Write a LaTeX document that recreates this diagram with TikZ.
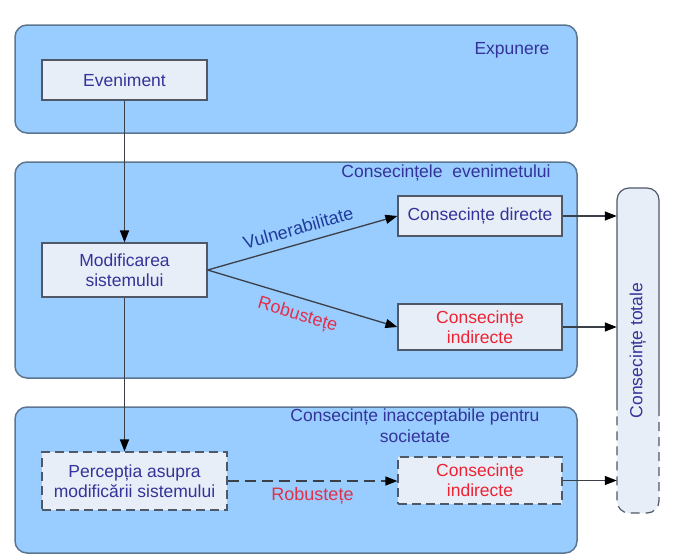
\documentclass[tikz,border=0pt]{standalone}
\usepackage{fontspec}
\setmainfont{Liberation Sans}
\usetikzlibrary{arrows.meta}
\definecolor{panelfill}{HTML}{99CCFF}
\definecolor{panelline}{HTML}{5C7690}
\definecolor{boxfill}{HTML}{E8EEF7}
\definecolor{boxline}{HTML}{4E5866}
\definecolor{txtblue}{HTML}{33339A}
\definecolor{lblblue}{HTML}{1F3C9C}
\definecolor{txtred}{HTML}{EE2233}
\definecolor{lblred}{HTML}{E0304A}
\definecolor{wirecol}{HTML}{3A3F48}
\tikzset{
  panel/.style={fill=panelfill, draw=panelline, line width=1.5pt, rounded corners=12pt},
  stepbox/.style={rectangle, fill=boxfill, draw=boxline, line width=1.2pt, align=center,
    text=txtblue, font=\fontsize{17.5}{20}\selectfont, inner sep=2pt},
  dashbox/.style={stepbox, dash pattern=on 9pt off 5pt},
  paneltitle/.style={text=txtblue, font=\fontsize{17.5}{21}\selectfont, align=center},
  wire/.style={draw=wirecol, line width=1.3pt, -{Triangle[length=12pt,width=9pt,color=black]}},
  dashwire/.style={wire, dash pattern=on 11pt off 6pt},
  lbl/.style={font=\fontsize{18}{20}\selectfont}
}
\begin{document}
\begin{tikzpicture}[x=1pt, y=-1pt]
\useasboundingbox (0,0) rectangle (678,555);

% the three panels
\draw[panel] (15,25) rectangle (577,133);
\draw[panel] (15,162) rectangle (577,378);
\draw[panel] (15,407) rectangle (577,553);

\node[paneltitle] (t1) at (512,50) {Expunere};
\node[paneltitle] (t2) at (446,173) {Consecințele~ evenimetului};
\node[paneltitle] (t3) at (415,426) {Consecințe inacceptabile pentru\\societate};

% process boxes
\node[stepbox, minimum width=165pt, minimum height=40pt] (ev) at (124.5,80) {Eveniment};
\node[stepbox, minimum width=165pt, minimum height=54pt] (mod) at (124.5,270) {Modificarea\\sistemului};
\node[stepbox, minimum width=164pt, minimum height=40pt] (dir) at (480,216) {Consecințe directe};
\node[stepbox, minimum width=164pt, minimum height=46pt, text=txtred] (ind1) at (480,327) {Consecințe\\indirecte};
\node[dashbox, minimum width=185pt, minimum height=58pt] (perc) at (134.5,481) {Percepția asupra\\modificării sistemului};
\node[dashbox, minimum width=164pt, minimum height=47pt, text=txtred] (ind2) at (480,480.5) {Consecințe\\indirecte};

% total consequences column: solid upper outline, dashed lower outline
\fill[boxfill, rounded corners=12pt] (617,188) rectangle (659,513);
\draw[boxline, line width=1.2pt, rounded corners=12pt] (617,407) -- (617,188) -- (659,188) -- (659,407);
\draw[boxline, line width=1.2pt, rounded corners=12pt, dash pattern=on 9pt off 6pt] (659,407) -- (659,513) -- (617,513) -- (617,407);
\node[rotate=90, text=txtblue, font=\fontsize{17.5}{20}\selectfont, minimum width=325pt, minimum height=42pt] (tot) at (638,350.5) {Consecințe totale};

% connectors
\draw[wire] (ev.south) -- (mod.north);
\draw[wire] (mod.south) -- (mod.south |- perc.north);
\draw[wire] (mod.east) -- node[lbl, midway, sloped, above=5pt, text=lblblue] (vul) {Vulnerabilitate} (dir.west);
\draw[wire] (mod.east) -- node[lbl, midway, sloped, below=5pt, text=lblred] (rob1) {Robustețe} (ind1.west);
\draw[dashwire] (perc.east) -- node[lbl, midway, below=2pt, text=lblred] (rob2) {Robustețe} (perc.east -| ind2.west);
\draw[wire] (dir.east) -- (dir.east -| tot.north);
\draw[wire] (ind1.east) -- (ind1.east -| tot.north);
\draw[wire] (ind2.east) -- (ind2.east -| tot.north);
\end{tikzpicture}
\end{document}
